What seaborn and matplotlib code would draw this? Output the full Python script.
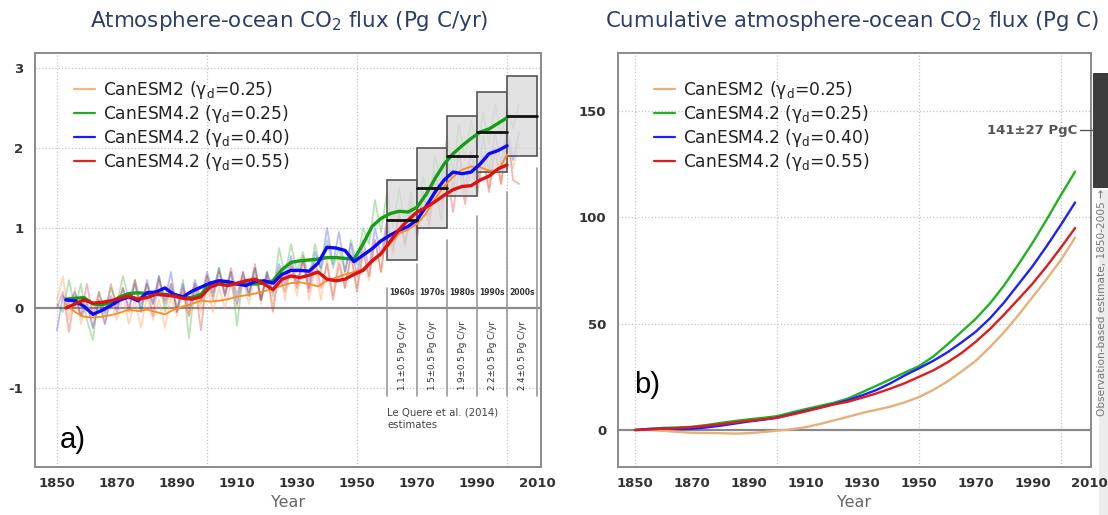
import numpy as np
import pandas as pd
import matplotlib
matplotlib.use("Agg")
import matplotlib.pyplot as plt
import seaborn as sns
from matplotlib.patches import Rectangle
from matplotlib.lines import Line2D
from matplotlib.transforms import blended_transform_factory

# ---------------- data ----------------
model_labels = ["CanESM2 ($\\mathregular{\\gamma_d}$=0.25)",
                "CanESM4.2 ($\\mathregular{\\gamma_d}$=0.25)",
                "CanESM4.2 ($\\mathregular{\\gamma_d}$=0.40)",
                "CanESM4.2 ($\\mathregular{\\gamma_d}$=0.55)"]

# smoothed (running-mean) flux, Pg C/yr
smooth_years = list(range(1853, 2001, 3))
canesm2_smooth = [0.05, -0.05, -0.11, -0.12, -0.11, -0.09, -0.06, -0.02, -0.04, -0.02,
                  -0.05, -0.08, -0.02, 0.02, 0.05, 0.09, 0.08, 0.09, 0.11, 0.14,
                  0.16, 0.18, 0.21, 0.24, 0.28, 0.31, 0.32, 0.30, 0.27, 0.34,
                  0.38, 0.42, 0.45, 0.49, 0.57, 0.67, 0.80, 0.93, 0.98, 1.05,
                  1.18, 1.37, 1.52, 1.64, 1.73, 1.77, 1.76, 1.72, 1.72, 1.92]
g025_smooth = [0.11, 0.12, 0.13, 0.05, 0.04, 0.07, 0.14, 0.18, 0.19, 0.18,
               0.18, 0.17, 0.15, 0.13, 0.13, 0.17, 0.30, 0.34, 0.32, 0.30,
               0.30, 0.30, 0.31, 0.34, 0.48, 0.57, 0.59, 0.60, 0.61, 0.63,
               0.63, 0.62, 0.61, 0.80, 1.02, 1.12, 1.18, 1.21, 1.20, 1.26,
               1.42, 1.62, 1.80, 1.93, 2.03, 2.12, 2.20, 2.24, 2.31, 2.38]
g040_smooth = [0.10, 0.09, 0.02, -0.08, -0.03, 0.03, 0.10, 0.14, 0.09, 0.19,
               0.20, 0.25, 0.17, 0.14, 0.21, 0.26, 0.31, 0.34, 0.33, 0.30,
               0.28, 0.33, 0.34, 0.31, 0.42, 0.47, 0.47, 0.46, 0.56, 0.76,
               0.75, 0.72, 0.58, 0.66, 0.74, 0.84, 0.91, 0.97, 1.02, 1.10,
               1.27, 1.45, 1.60, 1.70, 1.68, 1.70, 1.80, 1.93, 1.97, 2.03]
g055_smooth = [0.00, 0.05, 0.10, 0.06, 0.07, 0.09, 0.12, 0.15, 0.11, 0.13,
               0.17, 0.16, 0.15, 0.12, 0.11, 0.14, 0.26, 0.30, 0.28, 0.31,
               0.34, 0.36, 0.30, 0.23, 0.36, 0.40, 0.38, 0.41, 0.45, 0.36,
               0.34, 0.36, 0.42, 0.47, 0.59, 0.68, 0.83, 0.98, 1.10, 1.20,
               1.26, 1.33, 1.41, 1.48, 1.52, 1.53, 1.60, 1.65, 1.74, 1.79]

# annual (unsmoothed) flux, Pg C/yr
annual_years = list(range(1850, 2005, 2))
canesm2_annual = [0.10, 0.40, -0.15, 0.25, -0.20, 0.10, -0.25, 0.05, -0.20, 0.10,
                  -0.15, 0.15, -0.20, 0.10, -0.25, 0.15, -0.15, 0.10, -0.25, 0.15,
                  -0.10, 0.20, -0.10, 0.25, -0.05, 0.30, -0.05, 0.25, 0.00, 0.30,
                  0.00, 0.35, 0.05, 0.40, 0.05, 0.45, 0.05, 0.50, 0.10, 0.55,
                  0.15, 0.60, 0.10, 0.50, 0.10, 0.60, 0.15, 0.65, 0.25, 0.70,
                  0.25, 0.75, 0.35, 0.85, 0.45, 1.00, 0.65, 1.15, 0.75, 1.25,
                  0.85, 1.40, 1.05, 1.65, 1.25, 1.85, 1.45, 2.00, 1.50, 2.05,
                  1.55, 1.95, 1.50, 2.00, 1.55, 2.10, 1.75, 2.05]
g025_annual = [0.05, -0.05, 0.35, 0.00, 0.30, -0.15, -0.40, 0.20, -0.10, 0.25,
               0.05, 0.40, 0.10, 0.35, -0.05, 0.30, 0.05, 0.40, -0.05, 0.30,
               0.00, 0.35, -0.38, 0.30, 0.05, 0.40, 0.15, 0.50, 0.20, 0.45,
               -0.22, 0.40, 0.15, 0.50, 0.10, 0.45, 0.15, 0.75, 0.40, 0.80,
               0.45, 0.70, 0.35, 0.80, 0.45, 0.85, 0.50, 0.75, 0.45, 0.85,
               0.55, 1.00, 0.80, 1.35, 0.95, 1.45, 1.00, 1.50, 1.05, 1.45,
               1.10, 1.65, 1.30, 1.90, 1.55, 2.15, 1.70, 2.30, 1.85, 2.35,
               1.95, 2.45, 2.05, 2.55, 2.15, 2.50, 2.25, 2.55]
g040_annual = [-0.28, 0.15, 0.05, 0.20, -0.10, 0.05, -0.25, 0.10, -0.20, 0.15,
               -0.05, 0.25, 0.00, 0.30, -0.05, 0.35, 0.05, 0.40, 0.10, 0.45,
               -0.05, 0.30, 0.00, 0.35, 0.10, 0.45, 0.20, 0.50, 0.15, 0.45,
               0.05, 0.45, 0.15, 0.50, 0.10, 0.45, 0.20, 0.55, 0.30, 0.65,
               0.30, 0.60, 0.25, 0.70, 0.50, 1.00, 0.55, 0.95, 0.45, 0.80,
               0.40, 0.85, 0.50, 1.00, 0.65, 1.10, 0.75, 1.20, 0.80, 1.25,
               0.90, 1.45, 1.15, 1.70, 1.35, 1.90, 1.50, 1.95, 1.45, 1.95,
               1.55, 2.15, 1.70, 2.20, 1.80, 2.25, 1.85, 2.20]
g055_annual = [0.00, 0.20, -0.30, 0.15, -0.10, 0.30, -0.10, 0.20, -0.05, 0.30,
               0.00, 0.25, -0.05, 0.35, 0.05, 0.30, -0.10, 0.35, 0.05, 0.30,
               -0.05, 0.25, -0.10, 0.30, -0.28, 0.40, 0.10, 0.45, 0.15, 0.50,
               0.15, 0.45, 0.20, 0.55, 0.10, 0.40, -0.05, 0.45, 0.20, 0.55,
               0.25, 0.65, 0.20, 0.60, 0.25, 0.55, 0.10, 0.55, 0.25, 0.65,
               0.20, 0.70, 0.40, 0.85, 0.45, 1.05, 0.70, 1.20, 0.80, 1.35,
               0.95, 1.45, 1.00, 1.55, 1.10, 1.70, 1.20, 1.75, 1.30, 1.80,
               1.40, 1.90, 1.45, 2.00, 1.55, 2.20, 1.60, 1.55]

# Le Quere et al. (2014) decadal estimates
decade_starts = [1960, 1970, 1980, 1990, 2000]
decade_means = [1.1, 1.5, 1.9, 2.2, 2.4]
decade_unc = [0.5, 0.5, 0.5, 0.5, 0.5]

# cumulative flux, Pg C
cum_years = list(range(1850, 2006, 5))
canesm2_cum = [0, 0.1, -0.4, -0.9, -1.3, -1.4, -1.5, -1.7, -1.5, -1.0,
               -0.3, 0.3, 1.3, 2.8, 4.5, 6.2, 8.0, 9.5, 11.0, 13.0,
               15.5, 18.8, 22.8, 27.5, 32.5, 39.0, 46.0, 54.0, 62.5, 71.0,
               80.0, 90.5]
g025_cum = [0, 0.5, 1.0, 1.2, 1.5, 2.3, 3.3, 4.2, 5.0, 5.7,
            6.5, 8.2, 9.8, 11.3, 12.8, 14.8, 17.8, 20.8, 23.9, 27.0,
            30.0, 34.5, 40.2, 46.2, 52.3, 59.5, 68.0, 77.8, 88.0, 99.0,
            110.5, 121.5]
g040_cum = [0, 0.5, 0.7, 0.5, 0.6, 1.2, 2.0, 3.0, 4.0, 4.8,
            5.8, 7.4, 9.0, 10.5, 12.2, 14.0, 16.3, 18.8, 22.0, 25.7,
            29.0, 32.5, 36.5, 41.2, 46.2, 52.5, 60.0, 68.5, 77.0, 86.5,
            96.5, 107.0]
g055_cum = [0, 0.2, 0.6, 0.9, 1.3, 2.0, 2.7, 3.5, 4.3, 5.0,
            5.7, 7.2, 8.7, 10.4, 12.0, 13.3, 15.2, 17.2, 19.5, 22.0,
            25.0, 28.0, 31.8, 36.2, 41.5, 47.5, 54.3, 61.5, 68.8, 77.0,
            85.8, 95.0]
obs_mean = 141
obs_unc = 27

# ---------------- style ----------------
sns.set_style("white")
plt.rcParams['font.family'] = ['DejaVu Sans']
plt.rcParams['mathtext.fontset'] = 'dejavusans'
plt.rcParams['axes.unicode_minus'] = False
plt.rcParams['axes.grid'] = False

W, H = 1108, 515
fig = plt.figure(figsize=(W / 100, H / 100), dpi=100)
fig.patch.set_facecolor('white')

# light strip on the far right (behind everything)
strip_ax = fig.add_axes([1099 / W, 0, 9 / W, 1 - 190 / H], zorder=-5)
strip_ax.set_facecolor('#ececec')
strip_ax.set_axis_off()
strip_ax.add_patch(Rectangle((0, 0), 1, 1, transform=strip_ax.transAxes,
                             facecolor='#ececec', edgecolor='none'))

ax1 = fig.add_axes([35 / W, 1 - 467 / H, (541 - 35) / W, (467 - 53) / H])
ax2 = fig.add_axes([618 / W, 1 - 467 / H, (1091 - 618) / W, (467 - 53) / H])
ax2.patch.set_alpha(0)

thick_cols = ['#ff8c1a', '#14a014', '#0a0aff', '#dd1111']
faint_cols = ['#ffa060', '#22aa22', '#3030ff', '#dd2222']
leg_cols1 = ['#ffb27a', '#22aa22', '#1a1aff', '#dd2222']
cum_cols = ['#e6b07a', '#1fb41f', '#1f1fff', '#e01b1b']

annual_sets = [canesm2_annual, g025_annual, g040_annual, g055_annual]
smooth_sets = [canesm2_smooth, g025_smooth, g040_smooth, g055_smooth]
cum_sets = [canesm2_cum, g025_cum, g040_cum, g055_cum]


def style_axes(ax):
    ax.grid(False)
    for s in ax.spines.values():
        s.set_color('#8a8a8a')
        s.set_linewidth(1.4)
    ax.tick_params(axis='both', which='both', direction='out', color='#8a8a8a',
                   labelcolor='#333333', labelsize=9.5, width=1.0)
    ax.tick_params(axis='x', which='major', length=4)
    ax.tick_params(axis='x', which='minor', length=4)
    ax.tick_params(axis='y', length=5)
    for lab in ax.get_xticklabels() + ax.get_yticklabels():
        lab.set_fontweight('bold')
    ax.set_xlabel('Year', fontsize=11.5, color='#666666', labelpad=3)
    ax.set_ylabel('')
    for x in [1850, 1900, 1950, 2000]:
        ax.axvline(x, color='#c4c4c4', ls=':', lw=0.9, zorder=0.5)


# ---------------- left panel ----------------
for i in range(4):
    df = pd.DataFrame({'year': annual_years, 'flux': annual_sets[i]})
    sns.lineplot(data=df, x='year', y='flux', ax=ax1, color=faint_cols[i],
                 lw=1.3, alpha=0.32 if i else 0.4, zorder=1)

for d, m, u in zip(decade_starts, decade_means, decade_unc):
    ax1.add_patch(Rectangle((d, m - u), 10, 2 * u, facecolor=(0.86, 0.86, 0.86, 0.78),
                            edgecolor='#555555', lw=1.2, zorder=2))

lws = [1.3, 2.4, 2.4, 2.4]
for i in range(4):
    df = pd.DataFrame({'year': smooth_years, 'flux': smooth_sets[i]})
    sns.lineplot(data=df, x='year', y='flux', ax=ax1, color=thick_cols[i],
                 lw=lws[i], zorder=3 + i * 0.1)

for d, m in zip(decade_starts, decade_means):
    ax1.plot([d, d + 10], [m, m], color='#111111', lw=2.0, zorder=5)
    ax1.text(d + 5, 0.19, f"{d}s", fontsize=5.5, fontweight='bold', ha='center',
             va='center', color='#333333', zorder=6)
for d, m, u in zip(decade_starts, decade_means, decade_unc):
    ax1.text(d + 5, -0.59, f"{m:.1f}±{u:.1f} Pg C/yr", rotation=90, fontsize=6.3,
             ha='center', va='center', color='#333333', zorder=6)
for x, top in zip([1960, 1970, 1980, 1990, 2000, 2010], [0.25, 0.55, 0.85, 1.15, 1.45, 1.75]):
    ax1.plot([x, x], [top, -1.1], color='#9a9a9a', lw=1.2, zorder=1.5)

ax1.text(1960, -1.25, "Le Quere et al. (2014)\nestimates", fontsize=7.3, color='#444444',
         ha='left', va='top', linespacing=1.25)
ax1.text(1851, -1.65, "a)", fontsize=21, family='Liberation Sans', color='black',
         ha='left', va='center')

for y in [-1, 1, 2, 3]:
    ax1.axhline(y, color='#c4c4c4', ls=':', lw=0.9, zorder=0.5)
ax1.axhline(0, color='#8a8a8a', lw=1.6, zorder=0.8)

ax1.set_xlim(1842.7, 2011.3)
ax1.set_ylim(-1.99, 3.19)
ax1.set_xticks(range(1850, 2011, 20))
ax1.set_xticks(range(1850, 2011, 10), minor=True)
ax1.set_yticks([-1, 0, 1, 2, 3])
style_axes(ax1)

h1 = [Line2D([0], [0], color=c, lw=1.6) for c in leg_cols1]
ax1.legend(h1, model_labels, loc='upper left', bbox_to_anchor=(74 / W, 1 - 79 / H),
           bbox_transform=fig.transFigure, frameon=False, fontsize=12.3,
           handlelength=1.2, handletextpad=0.5, labelspacing=0.12, borderpad=0,
           borderaxespad=0, labelcolor='#222222')

# ---------------- right panel ----------------
for i in range(4):
    df = pd.DataFrame({'year': cum_years, 'cum': cum_sets[i]})
    sns.lineplot(data=df, x='year', y='cum', ax=ax2, color=cum_cols[i], lw=1.7, zorder=3)

for y in [50, 100, 150]:
    ax2.axhline(y, color='#c4c4c4', ls=':', lw=0.9, zorder=0.5)
ax2.axhline(0, color='#8a8a8a', lw=1.6, zorder=0.8)
ax2.set_xlim(1844.0, 2010.6)
ax2.set_ylim(-17.4, 177.3)
ax2.set_xticks(range(1850, 2011, 20))
ax2.set_xticks(range(1850, 2011, 10), minor=True)
ax2.set_yticks([0, 50, 100, 150])
style_axes(ax2)
ax2.text(1849.5, 21, "b)", fontsize=21, family='Liberation Sans', color='black',
         ha='left', va='center')

h2 = [Line2D([0], [0], color=c, lw=1.6) for c in cum_cols]
ax2.legend(h2, model_labels, loc='upper left', bbox_to_anchor=(654 / W, 1 - 79 / H),
           bbox_transform=fig.transFigure, frameon=False, fontsize=12.3,
           handlelength=1.2, handletextpad=0.5, labelspacing=0.12, borderpad=0,
           borderaxespad=0, labelcolor='#222222')

# observation-based estimate bar on the right edge
tr = blended_transform_factory(fig.transFigure, ax2.transData)
ax2.add_patch(Rectangle((1093 / W, obs_mean - obs_unc), 15 / W, 2 * obs_unc, transform=tr,
                        facecolor='#3c3c3c', edgecolor='none', clip_on=False, zorder=5))
ax2.plot([1080 / W, 1093 / W], [obs_mean, obs_mean], transform=tr, color='#555555',
         lw=1.0, clip_on=False, zorder=5)
ax2.text(1077 / W, obs_mean, f"{obs_mean}±{obs_unc} PgC", transform=tr, fontsize=9.5,
         fontweight='bold', color='#555555', ha='right', va='center', zorder=6)
fig.text(1102 / W, 1 - 189 / H, "Observation-based estimate, 1850-2005 \u2192", rotation=90,
         fontsize=7.6, color='#777777', ha='center', va='top')

# titles
fig.text(289 / W, 1 - 21 / H, "Atmosphere-ocean CO$_2$ flux (Pg C/yr)", fontsize=15.4,
         color='#2b3d6d', ha='center', va='center')
fig.text(852 / W, 1 - 21 / H, "Cumulative atmosphere-ocean CO$_2$ flux (Pg C)", fontsize=15.3,
         color='#2b3d6d', ha='center', va='center')

fig.savefig('out.png', dpi=100)
